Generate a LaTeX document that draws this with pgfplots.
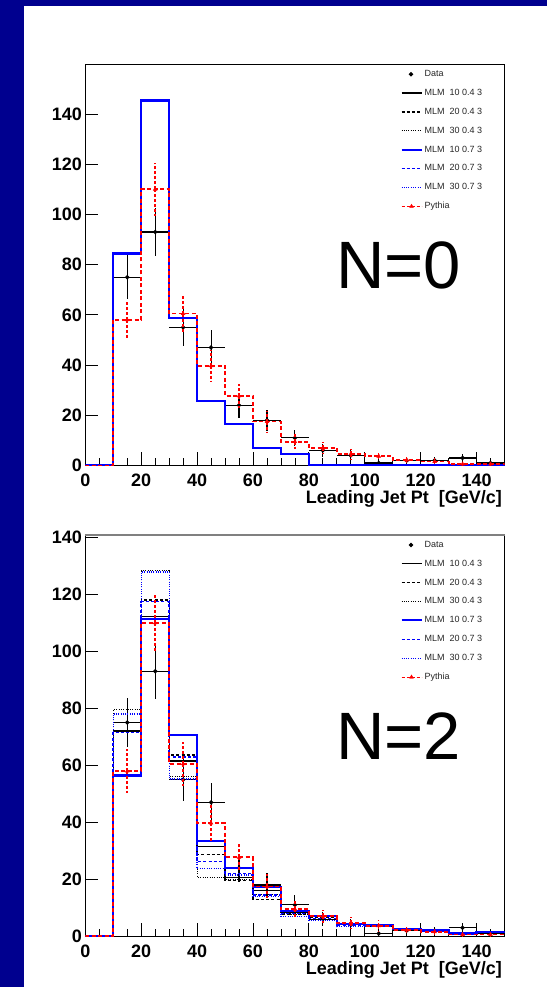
\documentclass[border=0pt]{standalone}
\usepackage{fontspec}
\setmainfont{Liberation Sans}
\usepackage{pgfplots}
\pgfplotsset{compat=1.18}
\usepackage{pgfplotstable}
\definecolor{navybg}{RGB}{0,0,143}
\definecolor{mblue}{RGB}{0,0,255}
\definecolor{mred}{RGB}{255,0,0}

\pgfplotstableread{
x y ex ey
15 75 5 8.66
25 93 5 9.64
35 55 5 7.42
45 47 5 6.86
55 24 5 4.90
65 18 5 4.24
75 11 5 3.32
85 6 5 2.45
95 4 5 2.00
105 1 5 1.00
115 2 5 1.41
125 2 5 1.41
135 3 5 1.73
145 1 5 1.00
}\datatab

\pgfplotstableread{
x y ey
15 58 7.6
25 110 10.5
35 60.5 7.8
45 39.7 6.3
55 27.7 4.8
65 17.5 4.2
75 9.5 3.1
85 7.0 2.4
95 4.6 2.1
105 3.7 1.9
115 2.2 1.5
125 1.6 1.2
135 0.6 0.8
145 0.6 0.8
}\pythpts

\pgfplotstableread{
x y
0 0
10 58
20 110
30 60.5
40 39.7
50 27.7
60 17.5
70 9.5
80 7.0
90 4.6
100 3.7
110 2.2
120 1.6
130 0.6
140 0.6
150 0.6
}\pythhist

\pgfplotstableread{
x y
0 0
10 84.4
20 145.4
30 58.6
40 25.7
50 16.4
60 7.1
70 4.7
80 0
90 0
100 0
110 0
120 0
130 0
140 0
150 0
}\mlmtop

\pgfplotstableread{
x bs bd bt us ud ut
0 0 0 0 0 0 0
10 72 72 79.5 56.4 71.5 78
20 112.1 118 128.2 111.2 117.4 127.8
30 61.5 63.6 56.1 70.5 62.9 55.2
40 31.5 28.6 20.8 33.3 26.3 23.8
50 20.5 19.6 20.0 24.1 22.0 21.5
60 16.0 13.0 14.5 17.4 14.5 14.0
70 8.5 7.8 7.5 8.8 8.0 7.0
80 7.4 6.5 5.8 7.2 6.3 5.5
90 4.2 4.0 3.3 4.3 4.0 3.3
100 3.8 3.6 3.3 4.0 3.5 3.3
110 2.6 2.5 2.4 2.7 2.5 2.4
120 2.0 1.9 1.8 2.0 1.9 1.8
130 1.2 1.1 1.0 1.0 1.1 1.0
140 1.5 1.4 1.3 1.6 1.4 1.3
150 1.5 1.4 1.3 1.6 1.4 1.3
}\mlmbot

\pgfplotsset{
  rootaxis/.style={
    scale only axis, width=419.2pt,
    xmin=0, xmax=150, ymin=0,
    xtick={0,20,...,140}, minor xtick={0,5,...,150},
    ytick={0,20,...,140},
    xtick pos=bottom, ytick pos=left,
    tick align=inside,
    major tick length=13pt, minor tick length=7pt,
    tick style={black, line width=0.8pt},
    axis line style={black, line width=0.9pt},
    /pgf/number format/assume math mode=true,
    ticklabel style={font=\bfseries\fontsize{18}{18}\selectfont, inner sep=0pt},
    xticklabel style={yshift=-8.5pt},
    yticklabel style={xshift=-3.2pt},
    xlabel={Leading Jet Pt\ \ [GeV/c]},
    xlabel style={font=\bfseries\fontsize{18}{18}\selectfont, at={(axis description cs:1,0)}, anchor=base east, inner sep=0pt, yshift=-38pt, xshift=-2.5pt},
    legend style={at={(axis description cs:0.7517,0.9899)}, anchor=north west, draw=none, fill=none, inner sep=0pt, outer sep=0pt, row sep=7.1pt, column sep=0pt, font=\fontsize{9}{9}\selectfont, text=black!85},
    legend cell align=left,
    legend image code/.code={\draw[#1] (0pt,0pt) -- (20pt,0pt);},
    clip mode=individual,
  },
  datast/.style={black, only marks, mark=*, mark size=1.6pt, line width=1.1pt,
    legend image code/.code={\draw[#1] plot coordinates {(9.5pt,0pt)};},
    error bars/.cd, x dir=both, x explicit, y dir=both, y explicit, error mark=none,
    error bar style={black, line width=1.1pt}},
  pythst/.style={mred, only marks, mark=triangle*, mark size=2.2pt,
    legend image code/.code={\draw[mred, line width=1.2pt, dash pattern=on 3pt off 2pt] (0pt,0pt)--(20pt,0pt); \draw[#1] plot coordinates {(10pt,0pt)};},
    error bars/.cd, y dir=both, y explicit, error mark=none,
    error bar style={mred, line width=1.5pt, dash pattern=on 3pt off 2pt}},
  pythhst/.style={const plot, mred, line width=1.8pt, dash pattern=on 4pt off 2.5pt, forget plot},
  bsol/.style={const plot, black, line width=1.2pt},
  bdash/.style={const plot, black, line width=1.2pt, dash pattern=on 3pt off 2.2pt},
  bdot/.style={const plot, black, line width=1pt, dash pattern=on 1pt off 1.3pt},
  usol/.style={const plot, mblue, line width=2.2pt},
  udash/.style={const plot, mblue, line width=1.5pt, dash pattern=on 3pt off 2.2pt},
  udot/.style={const plot, mblue, line width=1.2pt, dash pattern=on 1pt off 1.3pt},
}

\begin{document}
\begin{tikzpicture}
\useasboundingbox (0,0) rectangle (547pt,987pt);
\fill[navybg] (0,0) rectangle (547pt,987pt);
\fill[white] (23.5pt,0pt) rectangle (547pt,981pt);

% ---------- top panel: N=0
\begin{axis}[rootaxis, at={(85.3pt,521.5pt)}, anchor=south west, height=401.2pt, ymax=159.8]
\addplot[datast] table[x=x,y=y,x error=ex,y error=ey]{\datatab};
\addlegendentry{Data}
\addplot[bsol] table[x=x,y=y]{\mlmtop};
\addlegendentry{MLM\ \ 10 0.4 3}
\addplot[bdash] table[x=x,y=y]{\mlmtop};
\addlegendentry{MLM\ \ 20 0.4 3}
\addplot[bdot] table[x=x,y=y]{\mlmtop};
\addlegendentry{MLM\ \ 30 0.4 3}
\addplot[usol] table[x=x,y=y]{\mlmtop};
\addlegendentry{MLM\ \ 10 0.7 3}
\addplot[udash] table[x=x,y=y]{\mlmtop};
\addlegendentry{MLM\ \ 20 0.7 3}
\addplot[udot] table[x=x,y=y]{\mlmtop};
\addlegendentry{MLM\ \ 30 0.7 3}
\addplot[pythhst] table[x=x,y=y]{\pythhist};
\addplot[pythst] table[x=x,y=y,y error=ey]{\pythpts};
\addlegendentry{Pythia}
\node[anchor=base west, inner sep=0pt, font=\fontsize{67}{67}\selectfont] at (axis cs:89.7,70.4) {N=0};
\end{axis}

% ---------- bottom panel: N=2
\begin{axis}[rootaxis, at={(85.3pt,50.7pt)}, anchor=south west, height=401.3pt, ymax=140.8]
\addplot[datast] table[x=x,y=y,x error=ex,y error=ey]{\datatab};
\addlegendentry{Data}
\addplot[bsol] table[x=x,y=bs]{\mlmbot};
\addlegendentry{MLM\ \ 10 0.4 3}
\addplot[bdash] table[x=x,y=bd]{\mlmbot};
\addlegendentry{MLM\ \ 20 0.4 3}
\addplot[bdot] table[x=x,y=bt]{\mlmbot};
\addlegendentry{MLM\ \ 30 0.4 3}
\addplot[usol] table[x=x,y=us]{\mlmbot};
\addlegendentry{MLM\ \ 10 0.7 3}
\addplot[udash] table[x=x,y=ud]{\mlmbot};
\addlegendentry{MLM\ \ 20 0.7 3}
\addplot[udot] table[x=x,y=ut]{\mlmbot};
\addlegendentry{MLM\ \ 30 0.7 3}
\addplot[pythhst] table[x=x,y=y]{\pythhist};
\addplot[pythst] table[x=x,y=y,y error=ey]{\pythpts};
\addlegendentry{Pythia}
\draw[gray, line width=1.5pt] (rel axis cs:0,1) -- (rel axis cs:1,1);
\node[anchor=base west, inner sep=0pt, font=\fontsize{67}{67}\selectfont] at (axis cs:89.7,62.0) {N=2};
\end{axis}
\end{tikzpicture}
\end{document}
